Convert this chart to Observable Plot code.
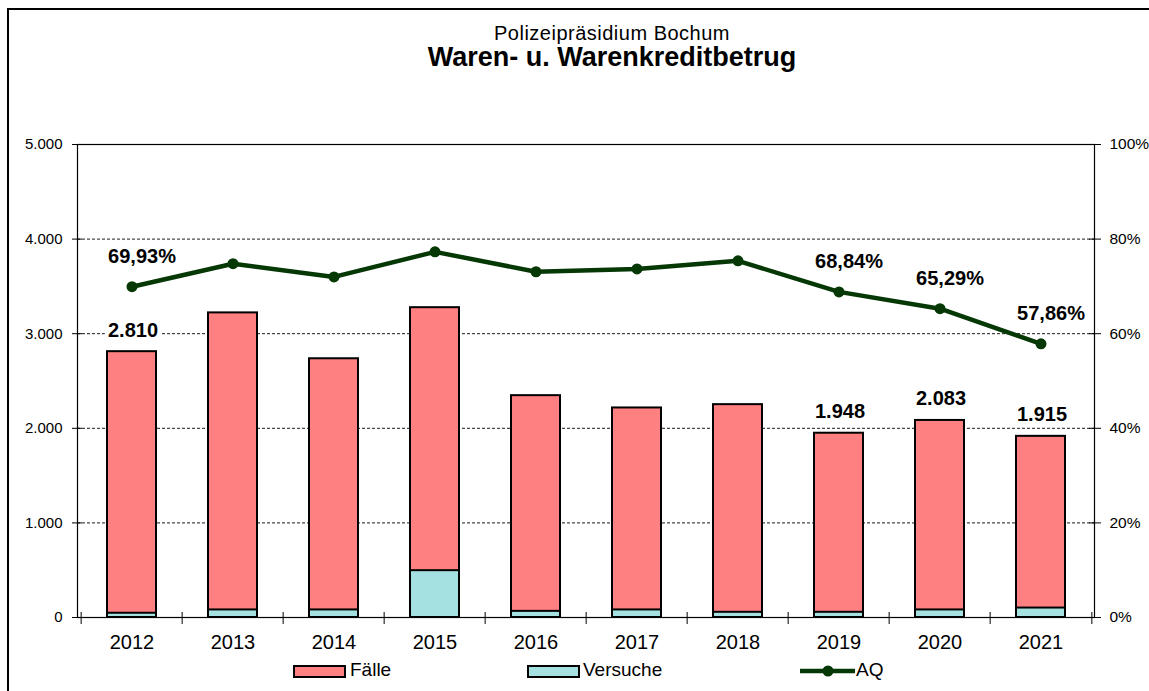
<!DOCTYPE html>
<html><head><meta charset="utf-8">
<script src="https://cdn.jsdelivr.net/npm/d3@7"></script>
<script src="https://cdn.jsdelivr.net/npm/@observablehq/plot@0.6"></script>
<style>
body{margin:0;background:#fff;font-family:"Liberation Sans",Arial,sans-serif;}
#wrap{position:relative;width:1149px;height:691px;overflow:hidden;background:#fff;}
#frame{position:absolute;left:7px;top:8px;right:-5px;bottom:-5px;border-top:2px solid #000;border-left:2px solid #000;}
.t{position:absolute;left:0;width:1224px;text-align:center;line-height:1;white-space:nowrap;color:#000;}
#chart{position:absolute;left:0;top:120px;}
.lg{position:absolute;font-size:19px;line-height:1;color:#000;white-space:nowrap;}
.sw{position:absolute;width:49px;height:9px;border:2px solid #000;}
</style></head>
<body>
<div id="wrap">
  <div id="frame"></div>
  <div class="t" style="top:23px;font-size:20px;letter-spacing:0.5px;">Polizeipräsidium Bochum</div>
  <div class="t" style="top:44px;font-size:27px;font-weight:bold;">Waren- u. Warenkreditbetrug</div>
  <div id="chart"></div>
  <div class="sw" style="left:293px;top:665px;background:#FF8080;"></div>
  <div class="lg" style="left:350px;top:660px;">Fälle</div>
  <div class="sw" style="left:527px;top:665px;background:#A6E1E1;"></div>
  <div class="lg" style="left:583px;top:660px;">Versuche</div>
  <svg style="position:absolute;left:800px;top:664px;" width="56" height="14">
    <line x1="0" y1="7" x2="55" y2="7" stroke="#053805" stroke-width="4.5"/>
    <circle cx="28" cy="7" r="5.5" fill="#053805"/>
  </svg>
  <div class="lg" style="left:856px;top:660px;">AQ</div>
</div>
<script>
const years = ["2012","2013","2014","2015","2016","2017","2018","2019","2020","2021"];
const faelle = [2810, 3220, 2735, 3275, 2345, 2215, 2250, 1948, 2083, 1915];
const versuche = [45, 80, 80, 495, 65, 80, 55, 55, 80, 100];
const aq = [69.93, 74.8, 72.0, 77.3, 73.1, 73.7, 75.4, 68.84, 65.29, 57.86];
const labelYears = ["2012", "2019", "2020", "2021"];
const countTicks = [0, 1000, 2000, 3000, 4000, 5000];
const gridTicks = [1000, 2000, 3000, 4000];
const pctFactor = 50; // 100 % on the right axis = 5.000 on the left axis

const data = years.map((year, i) => ({year, faelle: faelle[i], versuche: versuche[i], aq: aq[i]}));
const labelled = data.filter(d => labelYears.includes(d.year));
const fmtCount = d => d3.format(",")(d).replace(/,/g, ".");
const fmtPct = d => d3.format(".2f")(d).replace(".", ",") + "%";
const FONT = '"Liberation Sans", Arial, sans-serif';
const GREEN = "#053805";

const chart = Plot.plot({
  width: 1149, height: 540,
  marginLeft: 77, marginRight: 55, marginTop: 24, marginBottom: 43,
  style: {fontFamily: FONT, background: "transparent", color: "#000", overflow: "visible"},
  x: {type: "band", domain: years, padding: 0, axis: null, label: null},
  y: {domain: [0, 5000], axis: null, label: null},
  marks: [
    Plot.ruleY(gridTicks, {stroke: "#000", strokeWidth: 0.9, strokeDasharray: "3,2"}),
    Plot.barY(data, {x: "year", y: "faelle", fill: "#FF8080", stroke: "#000", strokeWidth: 2, insetLeft: 26, insetRight: 26}),
    Plot.barY(data, {x: "year", y: "versuche", fill: "#A6E1E1", stroke: "#000", strokeWidth: 2, insetLeft: 26, insetRight: 26}),
    Plot.frame({stroke: "#000", strokeWidth: 1.2}),
    Plot.axisY(countTicks, {anchor: "left", tickSize: 10, dx: 5, tickFormat: () => "", label: null}),
    Plot.axisY(countTicks, {anchor: "right", tickSize: 12, dx: -6, tickFormat: () => "", label: null}),
    Plot.axisX(years, {anchor: "bottom", tickSize: 12, dy: -5, dx: -50.85, tickFormat: () => "", label: null}),
    Plot.axisX([years[years.length - 1]], {anchor: "bottom", tickSize: 12, dy: -5, dx: 50.85, tickFormat: () => "", label: null}),
    Plot.line(data, {x: "year", y: d => d.aq * pctFactor, stroke: GREEN, strokeWidth: 4.5}),
    Plot.dot(data, {x: "year", y: d => d.aq * pctFactor, r: 5.5, fill: GREEN}),
    Plot.text(labelled, {x: "year", y: "faelle", text: d => fmtCount(d.faelle), dy: -21.5, dx: 1,
      fontSize: 20, fontWeight: "bold", fill: "#000", stroke: "#fff", strokeWidth: 8, paintOrder: "stroke", strokeLinejoin: "round"}),
    Plot.text(labelled, {x: "year", y: d => d.aq * pctFactor, text: d => fmtPct(d.aq), dy: -30, dx: 10,
      fontSize: 20, fontWeight: "bold", fill: "#000", stroke: "#fff", strokeWidth: 8, paintOrder: "stroke", strokeLinejoin: "round"}),
    Plot.axisY(countTicks, {anchor: "left", tickSize: 0, tickPadding: 15, tickFormat: fmtCount, fontSize: 15, label: null}),
    Plot.axisY(countTicks, {anchor: "right", tickSize: 0, tickPadding: 15, tickFormat: d => (d / pctFactor) + "%", fontSize: 15.5, label: null}),
    Plot.axisX(years, {anchor: "bottom", tickSize: 0, tickPadding: 17, fontSize: 20, label: null})
  ]
});
document.getElementById("chart").appendChild(chart);
</script>
</body></html>
